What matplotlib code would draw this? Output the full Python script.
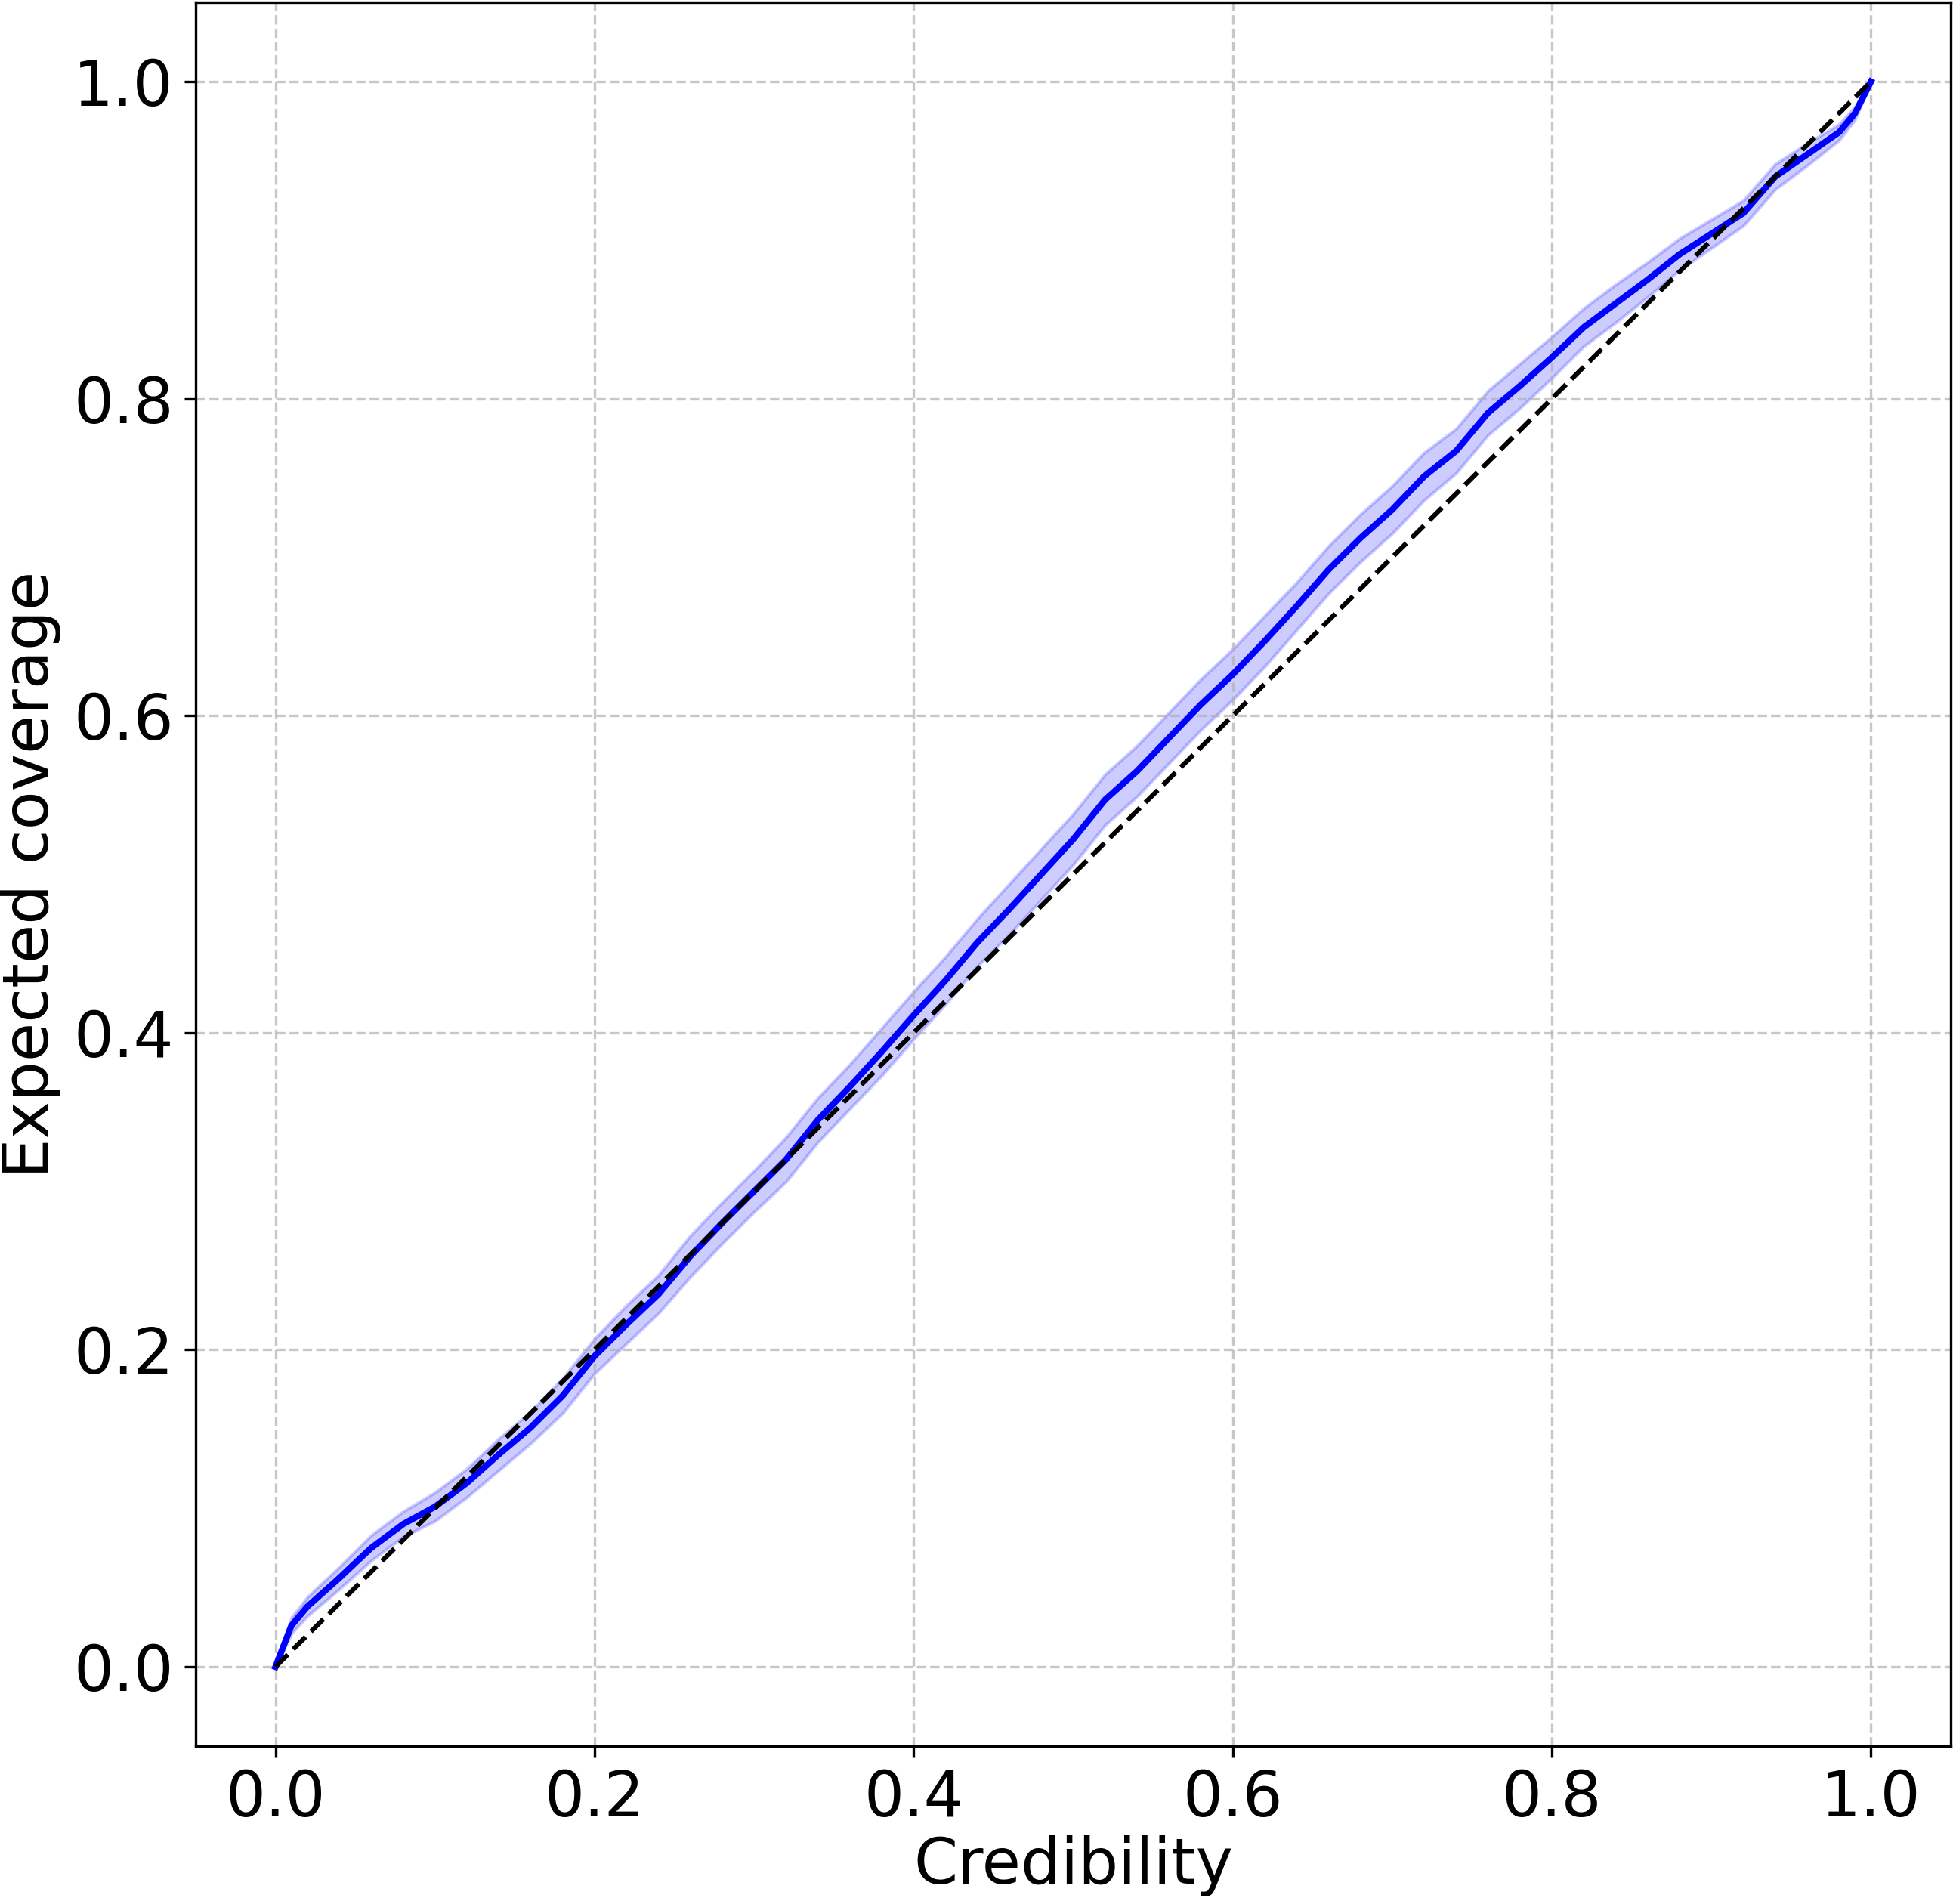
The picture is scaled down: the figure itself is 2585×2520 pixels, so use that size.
import numpy as np
import matplotlib
matplotlib.use("Agg")
import matplotlib.pyplot as plt

# credibility level vs expected coverage
credibility = [0.00, 0.01, 0.02, 0.04, 0.06, 0.08, 0.10, 0.12, 0.14, 0.16,
               0.18, 0.20, 0.22, 0.24, 0.26, 0.28, 0.30, 0.32, 0.34, 0.36,
               0.38, 0.40, 0.42, 0.44, 0.46, 0.48, 0.50, 0.52, 0.54, 0.56,
               0.58, 0.60, 0.62, 0.64, 0.66, 0.68, 0.70, 0.72, 0.74, 0.76,
               0.78, 0.80, 0.82, 0.84, 0.86, 0.88, 0.90, 0.92, 0.94, 0.96,
               0.98, 0.99, 1.00]
coverage = [0.000, 0.026, 0.038, 0.056, 0.075, 0.090, 0.101, 0.116, 0.134, 0.151,
            0.171, 0.196, 0.216, 0.235, 0.259, 0.280, 0.300, 0.320, 0.345, 0.366,
            0.388, 0.411, 0.433, 0.457, 0.478, 0.500, 0.522, 0.547, 0.565, 0.586,
            0.607, 0.626, 0.647, 0.669, 0.692, 0.712, 0.730, 0.751, 0.767, 0.791,
            0.808, 0.826, 0.845, 0.860, 0.875, 0.891, 0.904, 0.917, 0.940, 0.954,
            0.968, 0.980, 1.000]
# half width of the shaded band
band = [0.000, 0.005, 0.006, 0.007, 0.008, 0.008, 0.009, 0.009, 0.010, 0.010,
        0.011, 0.011, 0.012, 0.012, 0.013, 0.013, 0.013, 0.014, 0.014, 0.014,
        0.015, 0.015, 0.015, 0.015, 0.016, 0.016, 0.016, 0.016, 0.016, 0.016,
        0.016, 0.016, 0.016, 0.015, 0.015, 0.015, 0.015, 0.015, 0.014, 0.014,
        0.014, 0.013, 0.012, 0.012, 0.011, 0.010, 0.009, 0.008, 0.008, 0.007,
        0.005, 0.004, 0.000]

x = np.array(credibility)
y = np.array(coverage)
w = np.array(band)

fig = plt.figure(figsize=(2586 / 300, 2520 / 300), dpi=300)
ax = fig.add_axes([259 / 2586, 1 - 2311 / 2520, (2582 - 259) / 2586, (2311 - 3) / 2520])

ax.fill_between(x, y - w, y + w, color="blue", alpha=0.2)
ax.plot(x, y, color="blue", lw=2)
ax.plot([0, 1], [0, 1], "k--", lw=1.5)

ax.set_xlabel("Credibility", fontsize=20, labelpad=2)
ax.set_ylabel("Expected coverage", fontsize=20)
ax.tick_params(labelsize=20)
ax.set_xticks([0.0, 0.2, 0.4, 0.6, 0.8, 1.0])
ax.set_yticks([0.0, 0.2, 0.4, 0.6, 0.8, 1.0])
ax.set_xlim(-0.05, 1.05)
ax.set_ylim(-0.05, 1.05)
ax.grid(True, linestyle="--", alpha=0.7)

fig.savefig("out.png", dpi=300)
